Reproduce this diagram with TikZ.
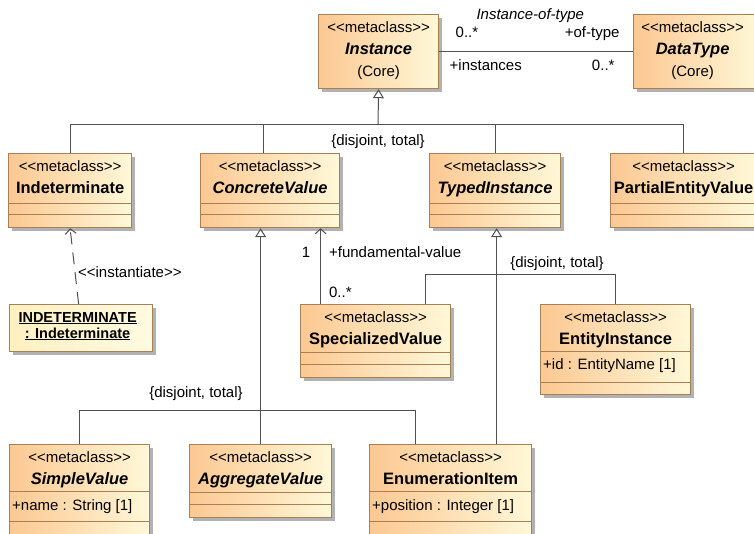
\documentclass[tikz,border=0pt]{standalone}
\usepackage{fontspec}
\setmainfont{Liberation Sans}
\usetikzlibrary{arrows.meta,shadows}

\definecolor{clsleft}{RGB}{252,200,146}
\definecolor{clsright}{RGB}{255,248,216}
\definecolor{clsline}{RGB}{168,128,88}
\definecolor{objleft}{RGB}{255,240,192}
\definecolor{objright}{RGB}{255,250,226}
\definecolor{wire}{RGB}{80,80,80}

\newcommand{\stereo}[1]{<\kern0pt<#1>\kern0pt>}

\begin{document}
\begin{tikzpicture}[x=1pt, y=-1pt]
	\tikzset{cls/.style={draw=clsline, line width=1.2pt, left color=clsleft, right color=clsright, anchor=north west, inner sep=0, drop shadow={shadow xshift=3pt, shadow yshift=-3pt, opacity=.3, fill=black}},
	obj/.style={cls, left color=objleft, right color=objright},
	part/.style={draw=clsline, line width=1pt},
	st/.style={anchor=base, inner sep=0, font=\fontsize{15}{18}\selectfont},
	nm/.style={st, font=\fontsize{16.5}{20}\selectfont\bfseries},
	nmi/.style={st, font=\fontsize{16.5}{20}\selectfont\bfseries\itshape},
	ob/.style={st, font=\fontsize{14.5}{18}\selectfont\bfseries},
	att/.style={st, anchor=base west},
	lbl/.style={st},
	ln/.style={draw=wire, line width=1pt},
	gen/.style={ln, -{Triangle[open, length=9pt, width=11pt]}},
	nav/.style={ln, -{Straight Barb[length=5pt, width=11pt]}},
	dep/.style={nav, dash pattern=on 12pt off 8pt}}

	\useasboundingbox (0,0) rectangle (754,533);
	\clip (0,0) rectangle (754,533);
	\fill[white] (0,0) rectangle (754,533);

	% top row
	\node[cls, minimum width=120, minimum height=74] (inst) at (318,14) {};
	\node[st] (inst-s) at ([yshift=-18pt]inst.north) {\stereo{metaclass}};
	\node[nmi] (inst-n) at ([yshift=-40pt]inst.north) {Instance};
	\node[st] (inst-c) at ([yshift=-62pt]inst.north) {(Core)};

	\node[cls, minimum width=127, minimum height=74] (dt) at (633,14) {};
	\node[st] (dt-s) at ([xshift=-4.5pt, yshift=-18pt]dt.north) {\stereo{metaclass}};
	\node[nmi] (dt-n) at ([xshift=-4.5pt, yshift=-40pt]dt.north) {DataType};
	\node[st] (dt-c) at ([xshift=-4.5pt, yshift=-62pt]dt.north) {(Core)};

	% second row
	\node[cls, minimum width=123, minimum height=74] (ind) at (8,153) {};
	\node[st] (ind-s) at ([yshift=-18pt]ind.north) {\stereo{metaclass}};
	\node[nm] (ind-n) at ([yshift=-40pt]ind.north) {Indeterminate};
	\draw[part] ([yshift=-50pt]ind.north west) -- ([yshift=-50pt]ind.north east);
	\draw[part] ([yshift=-61pt]ind.north west) -- ([yshift=-61pt]ind.north east);

	\node[cls, minimum width=139, minimum height=74] (cv) at (200,153) {};
	\node[st] (cv-s) at ([yshift=-18pt]cv.north) {\stereo{metaclass}};
	\node[nmi] (cv-n) at ([yshift=-40pt]cv.north) {ConcreteValue};
	\draw[part] ([yshift=-50pt]cv.north west) -- ([yshift=-50pt]cv.north east);
	\draw[part] ([yshift=-61pt]cv.north west) -- ([yshift=-61pt]cv.north east);

	\node[cls, minimum width=131, minimum height=74] (ti) at (429,153) {};
	\node[st] (ti-s) at ([yshift=-18pt]ti.north) {\stereo{metaclass}};
	\node[nmi] (ti-n) at ([yshift=-40pt]ti.north) {TypedInstance};
	\draw[part] ([yshift=-50pt]ti.north west) -- ([yshift=-50pt]ti.north east);
	\draw[part] ([yshift=-61pt]ti.north west) -- ([yshift=-61pt]ti.north east);

	\node[cls, minimum width=146, minimum height=74] (pev) at (610,153) {};
	\node[st] (pev-s) at ([yshift=-18pt]pev.north) {\stereo{metaclass}};
	\node[nm] (pev-n) at ([yshift=-40pt]pev.north) {PartialEntityValue};
	\draw[part] ([yshift=-50pt]pev.north west) -- ([yshift=-50pt]pev.north east);
	\draw[part] ([yshift=-61pt]pev.north west) -- ([yshift=-61pt]pev.north east);

	% third row
	\node[obj, minimum width=143, minimum height=47] (ino) at (9,304) {};
	\node[ob] (ino-a) at ([xshift=-3.5pt, yshift=-18pt]ino.north) {\underline{INDETERMINATE}};
	\node[ob] (ino-b) at ([xshift=-3.5pt, yshift=-34pt]ino.north) {\underline{: Indeterminate}};

	\node[cls, minimum width=150, minimum height=73] (sv) at (300,304) {};
	\node[st] (sv-s) at ([yshift=-18pt]sv.north) {\stereo{metaclass}};
	\node[nm] (sv-n) at ([yshift=-40pt]sv.north) {SpecializedValue};
	\draw[part] ([yshift=-48pt]sv.north west) -- ([yshift=-48pt]sv.north east);
	\draw[part] ([yshift=-60pt]sv.north west) -- ([yshift=-60pt]sv.north east);

	\node[cls, minimum width=150, minimum height=90] (ei) at (540,304) {};
	\node[st] (ei-s) at ([yshift=-18pt]ei.north) {\stereo{metaclass}};
	\node[nm] (ei-n) at ([yshift=-40pt]ei.north) {EntityInstance};
	\draw[part] ([yshift=-47pt]ei.north west) -- ([yshift=-47pt]ei.north east);
	\node[att] (ei-a) at ([xshift=3pt, yshift=-65pt]ei.north west) {+id : EntityName [1]};
	\draw[part] ([yshift=-78pt]ei.north west) -- ([yshift=-78pt]ei.north east);

	% bottom row
	\node[cls, minimum width=140, minimum height=100] (simv) at (9,444) {};
	\node[st] (simv-s) at ([yshift=-18pt]simv.north) {\stereo{metaclass}};
	\node[nmi] (simv-n) at ([yshift=-40pt]simv.north) {SimpleValue};
	\draw[part] ([yshift=-47pt]simv.north west) -- ([yshift=-47pt]simv.north east);
	\node[att] (simv-a) at ([xshift=3pt, yshift=-66pt]simv.north west) {+name : String [1]};
	\draw[part] ([yshift=-77pt]simv.north west) -- ([yshift=-77pt]simv.north east);

	\node[cls, minimum width=142, minimum height=73] (agv) at (189,444) {};
	\node[st] (agv-s) at ([yshift=-18pt]agv.north) {\stereo{metaclass}};
	\node[nmi] (agv-n) at ([yshift=-40pt]agv.north) {AggregateValue};
	\draw[part] ([yshift=-48pt]agv.north west) -- ([yshift=-48pt]agv.north east);
	\draw[part] ([yshift=-60pt]agv.north west) -- ([yshift=-60pt]agv.north east);

	\node[cls, minimum width=162, minimum height=100] (eni) at (369,444) {};
	\node[st] (eni-s) at ([yshift=-18pt]eni.north) {\stereo{metaclass}};
	\node[nm] (eni-n) at ([yshift=-40pt]eni.north) {EnumerationItem};
	\draw[part] ([yshift=-47pt]eni.north west) -- ([yshift=-47pt]eni.north east);
	\node[att] (eni-a) at ([xshift=3pt, yshift=-66pt]eni.north west) {+position : Integer [1]};
	\draw[part] ([yshift=-77pt]eni.north west) -- ([yshift=-77pt]eni.north east);

	% association Instance -- DataType
	\draw[ln] (inst) -- (dt)
		node[lbl, pos=.47, yshift=32pt, font=\fontsize{15}{18}\selectfont\itshape] {Instance-of-type}
		node[lbl, pos=0, anchor=base west, xshift=16pt, yshift=14pt] {0..*}
		node[lbl, pos=0, anchor=base west, xshift=10pt, yshift=-19pt] {+instances}
		node[lbl, pos=1, anchor=base east, xshift=-13pt, yshift=14pt] {+of-type}
		node[lbl, pos=1, anchor=base east, xshift=-18pt, yshift=-19pt] {0..*};

	% generalization of Instance
	\coordinate (g1) at (378,124);
	\draw[gen] (g1) -- (inst.south);
	\draw[ln] (ind.north) |- (g1);
	\draw[ln] ([xshift=-7pt]cv.north) |- (g1);
	\draw[ln] (ti.north) |- (g1);
	\draw[ln] (pev.north) |- (g1);
	\node[lbl] (g1-l) at ([yshift=-21pt]g1) {\{disjoint, total\}};

	% generalization of ConcreteValue
	\coordinate (g2) at (259,410);
	\draw[gen] (agv.north) -- (agv.north |- cv.south);
	\draw[ln] (simv.north) |- ([xshift=-35pt]eni.north |- g2) -- ([xshift=-35pt]eni.north);
	\node[lbl] (g2-l) at ([xshift=-63pt, yshift=13pt]g2) {\{disjoint, total\}};

	% generalization of TypedInstance
	\coordinate (g3) at (496,274);
	\draw[gen] ([xshift=46pt]eni.north) -- ([xshift=46pt]eni.north |- ti.south);
	\draw[ln] ([xshift=50pt]sv.north) |- (ei.north |- g3) -- (ei.north);
	\node[lbl] (g3-l) at ([xshift=61pt, yshift=7pt]g3) {\{disjoint, total\}};

	% SpecializedValue -> ConcreteValue
	\draw[nav] ([xshift=-55pt]sv.north) -- ([xshift=-55pt]sv.north |- cv.south)
		node[lbl, pos=1, anchor=base east, xshift=-10pt, yshift=-29pt] {1}
		node[lbl, pos=1, anchor=base west, xshift=8pt, yshift=-29pt] {+fundamental-value}
		node[lbl, pos=0, anchor=base west, xshift=8pt, yshift=7pt] {0..*};

	% instance of Indeterminate
	\draw[dep] ([xshift=-2.5pt]ino.north) -- (ind.south)
		node[lbl, pos=.35, anchor=base west, xshift=2pt] {\stereo{instantiate}};
\end{tikzpicture}
\end{document}
